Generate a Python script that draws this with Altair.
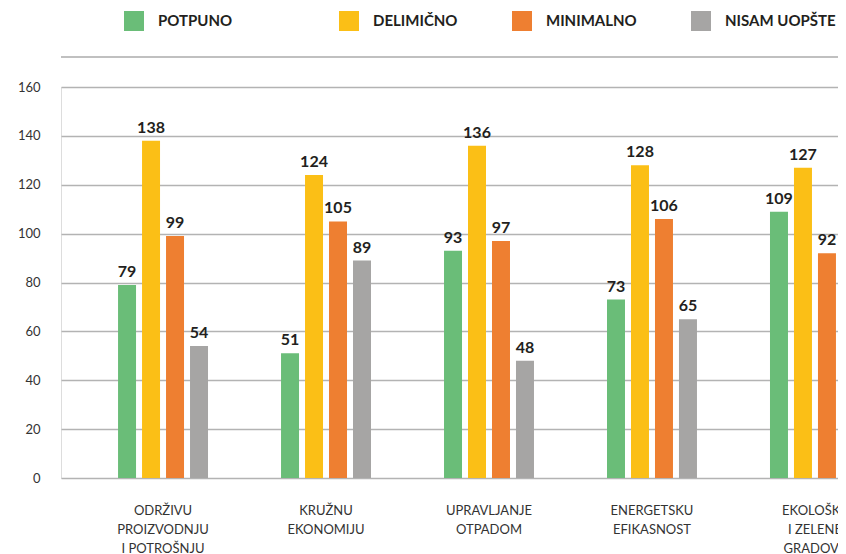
import altair as alt
import pandas as pd

categories = [
    "ODRŽIVU\nPROIZVODNJU\nI POTROŠNJU",
    "KRUŽNU\nEKONOMIJU",
    "UPRAVLJANJE\nOTPADOM",
    "ENERGETSKU\nEFIKASNOST",
    "EKOLOŠKE\nI ZELENE\nGRADOVE",
]
series = ["POTPUNO", "DELIMIČNO", "MINIMALNO", "NISAM UOPŠTE"]
potpuno = [79, 51, 93, 73, 109]
delimicno = [138, 124, 136, 128, 127]
minimalno = [99, 105, 97, 106, 92]
nisam_uopste = [54, 89, 48, 65, 41]
colors = ["#6abd78", "#fbbf16", "#ee7f31", "#a6a5a4"]
y_ticks = [0, 20, 40, 60, 80, 100, 120, 140, 160]

rows = []
for s, vals in zip(series, [potpuno, delimicno, minimalno, nisam_uopste]):
    for c, v in zip(categories, vals):
        rows.append({"kategorija": c, "odgovor": s, "broj": v})
df = pd.DataFrame(rows)

FONT = "Lato"

x_enc = alt.X(
    "kategorija:N",
    sort=categories,
    scale=alt.Scale(range=[0, 856], paddingInner=0.448, paddingOuter=0.35),
    axis=alt.Axis(
        title=None,
        labelAngle=0,
        domain=False,
        ticks=False,
        labelFont=FONT,
        labelFontSize=13,
        labelColor="#333333",
        labelLineHeight=19,
        labelPadding=26,
        labelLimit=300,
        labelExpr="split(datum.label, '\\n')",
    ),
)
xoff_enc = alt.XOffset(
    "odgovor:N",
    sort=series,
    scale=alt.Scale(domain=series, paddingInner=0.25, paddingOuter=0),
)
y_enc = alt.Y(
    "broj:Q",
    scale=alt.Scale(domain=[0, 160], nice=False),
    axis=alt.Axis(
        title=None,
        values=y_ticks,
        domain=False,
        ticks=False,
        grid=True,
        gridColor="#b3b3b3",
        gridWidth=1.5,
        labelFont=FONT,
        labelFontSize=13,
        labelColor="#333333",
        labelPadding=21,
    ),
)


def legend(x, pad):
    return alt.Legend(
        title=None,
        orient="none",
        legendX=x,
        legendY=-76,
        direction="horizontal",
        gridAlign="each",
        symbolType="square",
        symbolSize=400,
        symbolStrokeWidth=0,
        symbolOpacity=1,
        labelFont=FONT,
        labelFontWeight="bold",
        labelFontSize=15,
        labelColor="#231f20",
        labelOffset=14,
        columnPadding=pad,
        padding=0,
    )


bars_a = alt.Chart(df).transform_filter(
    alt.FieldOneOfPredicate(field="odgovor", oneOf=series[:1])
).mark_bar(opacity=1).encode(
    x=x_enc, xOffset=xoff_enc, y=y_enc,
    color=alt.Color("odgovor:N", scale=alt.Scale(domain=series[:1], range=colors[:1]),
                    legend=legend(63, 52)),
)
bars_b = alt.Chart(df).transform_filter(
    alt.FieldOneOfPredicate(field="odgovor", oneOf=series[1:])
).mark_bar(opacity=1).encode(
    x=x_enc, xOffset=xoff_enc, y=y_enc,
    color=alt.Color("odgovor:N", sort=series[1:],
                    scale=alt.Scale(domain=series[1:], range=colors[1:]),
                    legend=legend(278, 54)),
)
labels = alt.Chart(df).mark_text(
    baseline="alphabetic", dy=-8, font=FONT, fontWeight="bold", fontSize=16,
    color="#231f20"
).encode(x=x_enc, xOffset=xoff_enc, y=y_enc, text="broj:Q")

top_line = alt.Chart(pd.DataFrame({"a": [0]})).mark_rule(
    color="#c0c0c0", strokeWidth=2
).encode(x=alt.value(0), x2=alt.value(777), y=alt.value(-30))

chart = alt.layer(top_line, bars_a, bars_b, labels).resolve_scale(
    color="independent"
).properties(
    width=777,
    height=391,
    autosize=alt.AutoSizeParams(type="none"),
    padding={"left": 53, "top": 79, "right": 0, "bottom": 76},
).configure_view(stroke=None).configure(background="white")

chart.save("out.html", embed_options={"renderer": "svg", "actions": False})
